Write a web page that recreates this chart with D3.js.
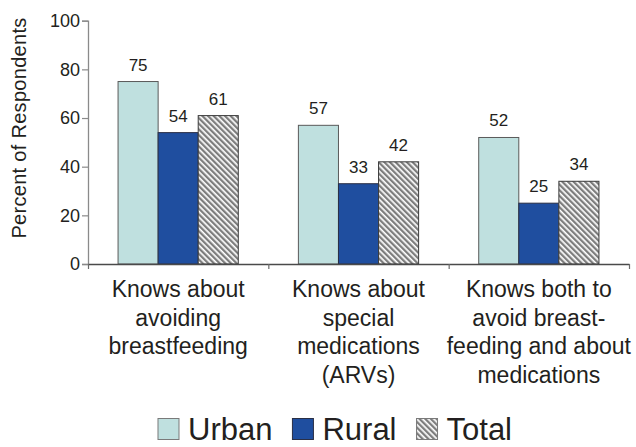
<!DOCTYPE html>
<html>
<head>
<meta charset="utf-8">
<script src="https://cdn.jsdelivr.net/npm/d3@7"></script>
<style>
  html, body { margin: 0; padding: 0; background: #fff; }
  svg { display: block; font-family: "Liberation Sans", Arial, Helvetica, sans-serif; }
</style>
</head>
<body>
<svg id="chart" width="636" height="447"></svg>
<script>
// ---- data ----
const categories = ["avoid", "arv", "both"];
const categoryLines = [
  ["Knows about", "avoiding", "breastfeeding"],
  ["Knows about", "special", "medications", "(ARVs)"],
  ["Knows both to", "avoid breast-", "feeding and about", "medications"]
];
const seriesNames = ["Urban", "Rural", "Total"];
const urbanValues = [75, 57, 52];
const ruralValues = [54, 33, 25];
const totalValues = [61, 42, 34];
const yTicks = [0, 20, 40, 60, 80, 100];
const yTitle = "Percent of Respondents";

// ---- layout ----
const W = 636, H = 447;
const svg = d3.select("#chart");
const textColor = "#231f20";

const y = d3.scaleLinear().domain([0, 100]).range([264, 20.7]);
const x0 = d3.scaleBand().domain(categories).range([88, 629]).paddingInner(0).paddingOuter(0);
const x1 = d3.scaleBand().domain(seriesNames).range([0, x0.bandwidth()]).paddingInner(0).paddingOuter(0.75);

// hatch pattern
const defs = svg.append("defs");
const pat = defs.append("pattern")
  .attr("id", "hatch")
  .attr("patternUnits", "userSpaceOnUse")
  .attr("width", 4).attr("height", 4)
  .attr("patternTransform", "rotate(-45)");
pat.append("rect").attr("width", 4).attr("height", 4).attr("fill", "#ffffff");
pat.append("rect").attr("width", 2.3).attr("height", 4).attr("fill", "#7d7d7d");

const fills = { Urban: "#bfe0df", Rural: "#1f4e9f", Total: "url(#hatch)" };
const strokes = { Urban: "#5a5a5a", Rural: "#2a2f45", Total: "#3c3c3c" };
const valuesBySeries = { Urban: urbanValues, Rural: ruralValues, Total: totalValues };

const rows = [];
categories.forEach((c, i) => {
  seriesNames.forEach(s => rows.push({ cat: c, series: s, value: valuesBySeries[s][i] }));
});

// bars
svg.append("g").selectAll("rect").data(rows).join("rect")
  .attr("x", d => x0(d.cat) + x1(d.series))
  .attr("y", d => y(d.value))
  .attr("width", x1.bandwidth())
  .attr("height", d => y(0) - y(d.value))
  .attr("fill", d => fills[d.series])
  .attr("stroke", d => strokes[d.series])
  .attr("stroke-width", 1);

// value labels
svg.append("g").selectAll("text").data(rows).join("text")
  .attr("x", d => x0(d.cat) + x1(d.series) + x1.bandwidth() / 2)
  .attr("y", d => y(d.value) - 11)
  .attr("text-anchor", "middle")
  .attr("font-size", 17)
  .attr("fill", textColor)
  .text(d => d.value);

// y axis
const yAxis = svg.append("g")
  .attr("transform", `translate(${x0.range()[0]},0)`)
  .call(d3.axisLeft(y).tickValues(yTicks).tickSize(6).tickPadding(2).tickFormat(d3.format("d")));
yAxis.select(".domain").attr("stroke", "#8a8a8a").attr("stroke-width", 1.3);
yAxis.selectAll(".tick line").attr("stroke", "#8a8a8a").attr("stroke-width", 1.2);
yAxis.selectAll(".tick text").attr("font-size", 18).attr("fill", textColor)
  .attr("font-family", "'Liberation Sans', Arial, sans-serif");

// x axis (ticks at category boundaries)
const xb = d3.scaleLinear().domain([0, categories.length]).range(x0.range());
const xAxis = svg.append("g")
  .attr("transform", `translate(0,${y(0)})`)
  .call(d3.axisBottom(xb).tickValues(d3.range(categories.length + 1)).tickSize(5).tickSizeOuter(0).tickFormat(""));
xAxis.select(".domain").attr("stroke", "#4a4a4a").attr("stroke-width", 1.3);
xAxis.selectAll(".tick line").attr("stroke", "#6a6a6a").attr("stroke-width", 1.2);

// category labels
const catG = svg.append("g");
categories.forEach((c, i) => {
  const t = catG.append("text")
    .attr("x", x0(c) + x0.bandwidth() / 2)
    .attr("y", 297)
    .attr("text-anchor", "middle")
    .attr("font-size", 23)
    .attr("fill", textColor);
  categoryLines[i].forEach((line, j) => {
    t.append("tspan")
      .attr("x", x0(c) + x0.bandwidth() / 2)
      .attr("dy", j === 0 ? 0 : 28.7)
      .text(line);
  });
});

// y title
svg.append("text")
  .attr("transform", "translate(26,128) rotate(-90)")
  .attr("text-anchor", "middle")
  .attr("font-size", 20)
  .attr("letter-spacing", 0.3)
  .attr("fill", textColor)
  .text(yTitle);

// legend
const legendG = svg.append("g");
const box = 21, gapText = 9, gapItem = 20;
let cx = 0;
seriesNames.forEach(s => {
  const g = legendG.append("g").attr("transform", `translate(${cx},0)`);
  g.append("rect")
    .attr("x", 0).attr("y", -21.5)
    .attr("width", box).attr("height", box)
    .attr("fill", fills[s])
    .attr("stroke", s === "Rural" ? "#2a2f45" : "#7a7a7a")
    .attr("stroke-width", 1);
  const t = g.append("text")
    .attr("x", box + gapText)
    .attr("y", 0)
    .attr("font-size", 31)
    .attr("fill", textColor)
    .text(s);
  cx += box + gapText + t.node().getComputedTextLength() + gapItem;
});
const legendWidth = cx - gapItem;
legendG.attr("transform", `translate(${335 - legendWidth / 2},440)`);
</script>
</body>
</html>
